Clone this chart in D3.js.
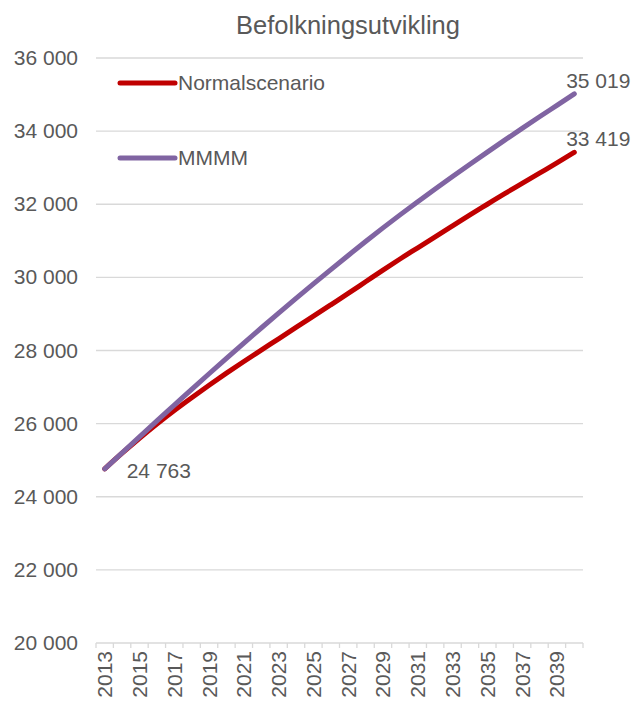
<!DOCTYPE html>
<html>
<head>
<meta charset="utf-8">
<script src="https://cdn.jsdelivr.net/npm/d3@7"></script>
<style>
  body { margin: 0; background: #fff; }
  svg text { font-family: "Liberation Sans", Arial, sans-serif; fill: #595959; }
</style>
</head>
<body>
<svg id="chart" width="633" height="704"></svg>
<script>
//
// Data
//
var years = d3.range(2013, 2041)
var normalscenario = [24763, 25190, 25600, 25990, 26360, 26710, 27050, 27380, 27700, 28010,
  28320, 28630, 28940, 29250, 29560, 29880, 30200, 30510, 30810, 31110,
  31410, 31710, 32000, 32290, 32570, 32850, 33130, 33419]
var mmmm = [24763, 25200, 25637, 26074, 26505, 26937, 27364, 27786, 28203, 28615,
  29022, 29424, 29821, 30213, 30600, 30982, 31354, 31716, 32068, 32415,
  32757, 33094, 33426, 33753, 34075, 34392, 34705, 35019]
var yTicks = [20000, 22000, 24000, 26000, 28000, 30000, 32000, 34000, 36000]
var seriesNames = ['Normalscenario', 'MMMM']
var title = 'Befolkningsutvikling'

//
// Setup
//
var colorRed = '#c00000'
var colorPurple = '#8064a2'
var colorGrid = '#d9d9d9'
var fontSize = 21

var svg = d3.select('#chart')
var plotLeft = 96, plotRight = 583, plotTop = 58, plotBottom = 643

var locale = d3.formatLocale({ decimal: ',', thousands: ' ', grouping: [3], currency: ['', ''] })
var fmt = locale.format(',d')

var x = d3.scaleBand().domain(years).range([plotLeft, plotRight])
var y = d3.scaleLinear().domain([20000, 36000]).range([plotBottom, plotTop])
var cx = function(yr) { return x(yr) + x.bandwidth() / 2 }

// title
svg.append('text')
  .attr('x', 348).attr('y', 34)
  .attr('text-anchor', 'middle')
  .attr('font-size', 25.5)
  .text(title)

// gridlines + y labels
svg.append('g').selectAll('line')
  .data(yTicks.slice(1))
  .enter().append('line')
  .attr('x1', plotLeft).attr('x2', plotRight)
  .attr('y1', function(d) { return y(d) }).attr('y2', function(d) { return y(d) })
  .attr('stroke', colorGrid).attr('stroke-width', 1.3)

svg.append('g').selectAll('text')
  .data(yTicks)
  .enter().append('text')
  .attr('x', 78).attr('y', function(d) { return y(d) + 7 })
  .attr('text-anchor', 'end')
  .attr('font-size', fontSize)
  .text(function(d) { return fmt(d) })

// x axis
var xAxis = svg.append('g')
xAxis.append('line')
  .attr('x1', plotLeft).attr('x2', plotRight)
  .attr('y1', plotBottom).attr('y2', plotBottom)
  .attr('stroke', colorGrid).attr('stroke-width', 1.3)
xAxis.selectAll('line.tick')
  .data(years.concat([2041]))
  .enter().append('line')
  .attr('class', 'tick')
  .attr('x1', function(d, i) { return plotLeft + i * x.bandwidth() })
  .attr('x2', function(d, i) { return plotLeft + i * x.bandwidth() })
  .attr('y1', plotBottom).attr('y2', plotBottom + 5)
  .attr('stroke', colorGrid).attr('stroke-width', 1.3)
xAxis.selectAll('text')
  .data(years.filter(function(d) { return (d - 2013) % 2 === 0 }))
  .enter().append('text')
  .attr('transform', function(d) { return 'translate(' + (cx(d) + 7.5) + ',' + (plotBottom + 8) + ') rotate(-90)' })
  .attr('text-anchor', 'end')
  .attr('font-size', fontSize)
  .text(function(d) { return d })

// lines
var line = d3.line()
  .x(function(d, i) { return cx(years[i]) })
  .y(function(d) { return y(d) })
  .curve(d3.curveMonotoneX)

function drawSeries(values, color) {
  svg.append('path')
    .datum(values)
    .attr('d', line)
    .attr('fill', 'none')
    .attr('stroke', color)
    .attr('stroke-width', 5)
    .attr('stroke-linecap', 'round')
    .attr('stroke-linejoin', 'round')
}
drawSeries(normalscenario, colorRed)
drawSeries(mmmm, colorPurple)

// data labels
var last = years.length - 1
svg.append('text')
  .attr('x', cx(years[last]) + 24).attr('y', y(mmmm[last]) - 6)
  .attr('text-anchor', 'middle').attr('font-size', fontSize)
  .text(fmt(mmmm[last]))
svg.append('text')
  .attr('x', cx(years[last]) + 24).attr('y', y(normalscenario[last]) - 6)
  .attr('text-anchor', 'middle').attr('font-size', fontSize)
  .text(fmt(normalscenario[last]))
svg.append('text')
  .attr('x', cx(years[0]) + 22).attr('y', y(normalscenario[0]) + 9)
  .attr('font-size', fontSize)
  .text(fmt(normalscenario[0]))

// legend
var legend = svg.append('g').selectAll('g')
  .data(seriesNames)
  .enter().append('g')
  .attr('transform', function(d, i) { return 'translate(120,' + (83 + i * 75) + ')' })
legend.append('line')
  .attr('x1', 0).attr('x2', 55)
  .attr('stroke', function(d, i) { return i === 0 ? colorRed : colorPurple })
  .attr('stroke-width', 5).attr('stroke-linecap', 'round')
legend.append('text')
  .attr('x', 58).attr('y', 7)
  .attr('font-size', fontSize)
  .text(function(d) { return d })
</script>
</body>
</html>
